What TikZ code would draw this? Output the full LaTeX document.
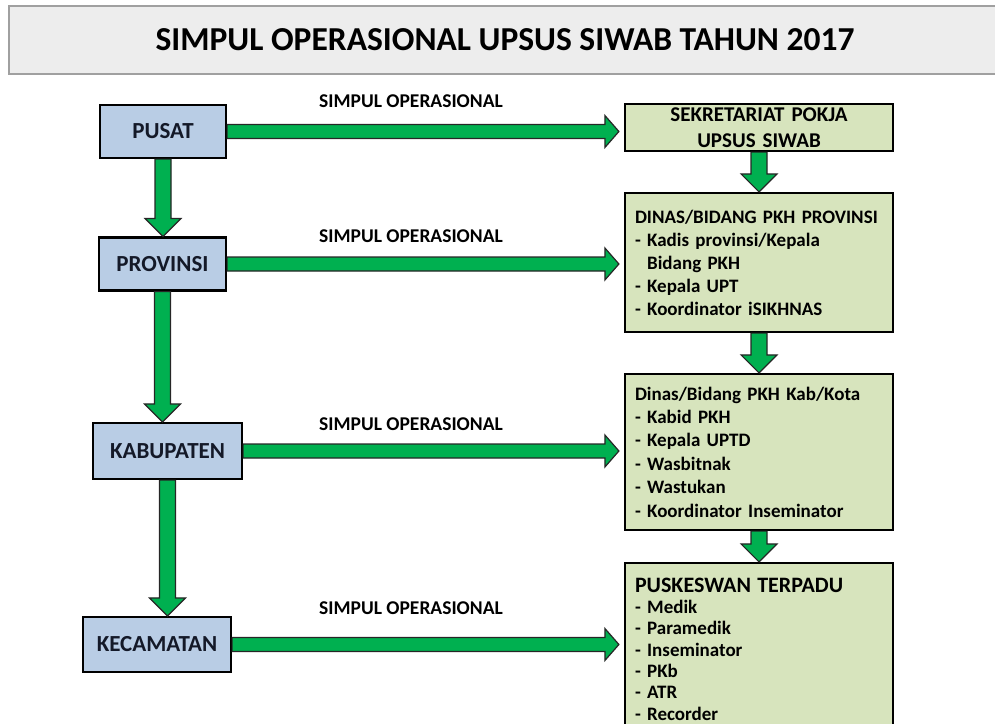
\documentclass[tikz,border=0pt]{standalone}
\usepackage{fontspec}
\setmainfont{Carlito}
\usepackage{tikz}
\usetikzlibrary{calc}

\definecolor{lvlblue}{RGB}{185,205,229}
\definecolor{unitolive}{RGB}{215,228,189}
\definecolor{flowgreen}{RGB}{0,176,80}
\definecolor{headgray}{RGB}{237,237,237}
\definecolor{headline}{RGB}{160,160,160}
\definecolor{lvltext}{RGB}{20,25,40}

% block arrows between two named nodes
\newcommand{\hflow}[2]{%
  \draw[flow] let \p1=(#1.east), \p2=(#2.west) in
    (\x1,\y1+7pt) -- (\x2-19pt,\y1+7pt) -- (\x2-19pt,\y1+16pt) -- (\x2-5pt,\y1)
    -- (\x2-19pt,\y1-16pt) -- (\x2-19pt,\y1-7pt) -- (\x1,\y1-7pt) -- cycle;}
\newcommand{\vflow}[2]{%
  \draw[flow] let \p1=(#1.south), \p2=(#2.north) in
    (\x1-8pt,\y1) -- (\x1-8pt,\y2+18pt) -- (\x1-18pt,\y2+18pt) -- (\x1,\y2)
    -- (\x1+18pt,\y2+18pt) -- (\x1+8pt,\y2+18pt) -- (\x1+8pt,\y1) -- cycle;}

\begin{document}
\begin{tikzpicture}[
  x=1pt,y=-1pt,
  lvl/.style={draw=black,line width=2.2pt,fill=lvlblue,inner sep=0pt,text=lvltext,font=\fontsize{23}{27}\selectfont\bfseries},
  unit/.style={draw=black,line width=2.2pt,fill=unitolive,text width=248pt,inner xsep=10pt,inner ysep=0pt,align=left,font=\fontsize{19}{23}\selectfont\bfseries},
  lbl/.style={font=\fontsize{19.5}{23}\selectfont\bfseries},
  flow/.style={draw=black!85,line width=1.2pt,fill=flowgreen,line join=miter}
]
\useasboundingbox (0,0) rectangle (995,723);

\node[draw=headline,line width=1.6pt,fill=headgray,minimum width=992pt,minimum height=68pt,font=\fontsize{33.5}{38}\selectfont\bfseries] (title) at (505,40) {SIMPUL OPERASIONAL UPSUS SIWAB TAHUN 2017};

% levels
\node[lvl,minimum width=126pt,minimum height=53pt] (pusat) at (163,131.5) {PUSAT};
\node[lvl,minimum width=127pt,minimum height=53pt] (prov) at (162.5,264) {PROVINSI};
\node[lvl,minimum width=149pt,minimum height=56pt] (kab) at (167.5,451) {KABUPATEN};
\node[lvl,minimum width=148pt,minimum height=55pt] (kec) at (157,644.5) {KECAMATAN};

% operational units
\node[unit,align=center,minimum height=47pt,font=\fontsize{21}{26}\selectfont\bfseries] (sek) at (759,127.5) {SEKRETARIAT POKJA\\UPSUS SIWAB};
\node[unit,minimum height=139pt] (dprov) at (759,262.5) {DINAS/BIDANG PKH PROVINSI\\- Kadis provinsi/Kepala\\\hphantom{- }Bidang PKH\\- Kepala UPT\\- Koordinator iSIKHNAS};
\node[unit,minimum height=156pt,font=\fontsize{19}{23.4}\selectfont\bfseries] (dkab) at (759,452) {Dinas/Bidang PKH Kab/Kota\\- Kabid PKH\\- Kepala UPTD\\- Wasbitnak\\- Wastukan\\- Koordinator Inseminator};
\node[unit,minimum height=172pt,font=\fontsize{19}{21.3}\selectfont\bfseries] (pkw) at (759,649) {{\fontsize{22}{24}\selectfont PUSKESWAN TERPADU}\\- Medik\\- Paramedik\\- Inseminator\\- PKb\\- ATR\\- Recorder};

% labels
\node[lbl] (l1) at (411,101) {SIMPUL OPERASIONAL};
\node[lbl] (l2) at (411,236) {SIMPUL OPERASIONAL};
\node[lbl] (l3) at (411,424) {SIMPUL OPERASIONAL};
\node[lbl] (l4) at (411,608) {SIMPUL OPERASIONAL};

% arrows
\vflow{pusat}{prov}
\vflow{prov}{kab}
\vflow{kab}{kec}
\vflow{sek}{dprov}
\vflow{dprov}{dkab}
\vflow{dkab}{pkw}
\hflow{pusat}{sek}
\hflow{prov}{dprov}
\hflow{kab}{dkab}
\hflow{kec}{pkw}
\end{tikzpicture}
\end{document}
